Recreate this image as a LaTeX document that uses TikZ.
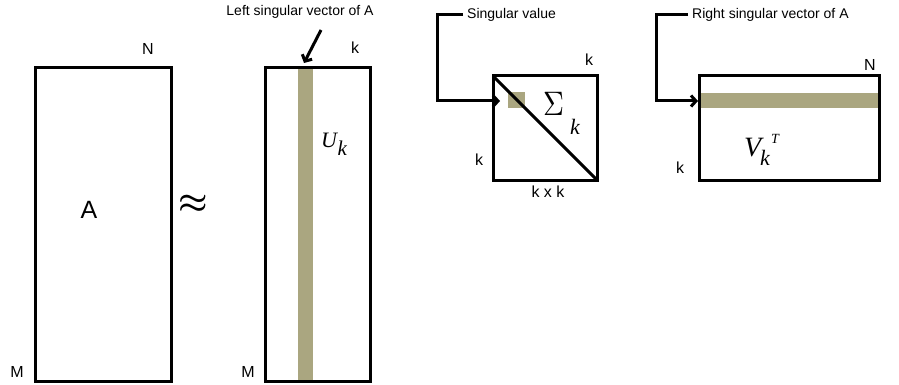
\documentclass[tikz,border=0pt]{standalone}
\usepackage{fontspec}
\usepackage{graphicx}
\setmainfont{Liberation Sans}
\newfontfamily\mathserif{Liberation Serif}
\usetikzlibrary{arrows.meta}
\begin{document}
\begin{tikzpicture}[x=1pt,y=-1pt,
  mat/.style={draw=black,line width=3pt},
  band/.style={fill=band,draw=none},
  lbl/.style={font=\fontsize{16}{18}\selectfont,inner sep=0pt},
  toplbl/.style={font=\fontsize{14}{16}\selectfont,inner sep=0pt},
  ital/.style={font=\mathserif\itshape\fontsize{#1}{#1}\selectfont,inner sep=0pt,anchor=base west},
  pointer/.style={line width=3pt,-{Straight Barb[length=5pt,width=11pt]}}]
\definecolor{band}{RGB}{170,166,128}
\useasboundingbox (0,0) rectangle (899,385);
% A
\draw[mat] (35,68) rectangle (171,381);
\node[inner sep=0pt,font=\fontsize{25}{27}\selectfont] (Alab) at (89,210) {A};
\node[lbl] (AN) at (148,49) {N};
\node[lbl] (AM) at (17,372) {M};
\node[inner sep=0pt] (approx) at (193,204) {\scalebox{3.3}{\boldmath$\approx$}};
% U
\fill[band] (298,68) rectangle (313,381);
\draw[mat] (265,68) rectangle (370,381);
\node[lbl] (Uk) at (355,48) {k};
\node[lbl] (UM) at (248,372) {M};
\node[ital=22] (Ulab) at (321,147) {U};
\node[ital=21] (Usub) at (337.5,155) {k};
\node[toplbl] (Ltext) at (300,12) {Left singular vector of A};
\coordinate (Lstart) at (321,30);
\coordinate (Lend) at (304,63);
\draw[pointer] (Lstart) -- (Lend);
% Sigma
\fill[band] (508,92) rectangle (525,108);
\draw[mat] (493,76) rectangle (597,180);
\draw[line width=3pt] (493,76) -- (597,180);
\node[inner sep=0pt] (Slab) at (553.5,104) {\scalebox{2.9}[3.4]{$\Sigma$}};
\node[ital=22] (Ssub) at (570,135) {k};
\node[lbl] (Sk1) at (589,60) {k};
\node[lbl] (Sk2) at (479,160) {k};
\node[lbl] (Skk) at (548,192) {k x k};
\node[toplbl,anchor=west] (Stext) at (467,15) {Singular value};
\coordinate (S1) at (463,15);
\coordinate (S2) at (437,15);
\coordinate (S3) at (437,101);
\coordinate (S4) at (500,101);
\draw[pointer] (S1) -- (S2) -- (S3) -- (S4);
% V
\fill[band] (699,93) rectangle (879,108);
\draw[mat] (699,76) rectangle (879,180);
\node[lbl] (VN) at (870,65) {N};
\node[lbl] (Vk) at (680,168) {k};
\node[ital=28] (Vlab) at (744,157) {V};
\node[ital=22] (Vsub) at (760,165) {k};
\node[ital=14] (Vsup) at (771,143) {T};
\node[toplbl,anchor=west] (Vtext) at (692,15) {Right singular vector of A};
\coordinate (V1) at (688,15);
\coordinate (V2) at (656,15);
\coordinate (V3) at (656,101);
\coordinate (V4) at (698,101);
\draw[pointer] (V1) -- (V2) -- (V3) -- (V4);
\end{tikzpicture}
\end{document}
